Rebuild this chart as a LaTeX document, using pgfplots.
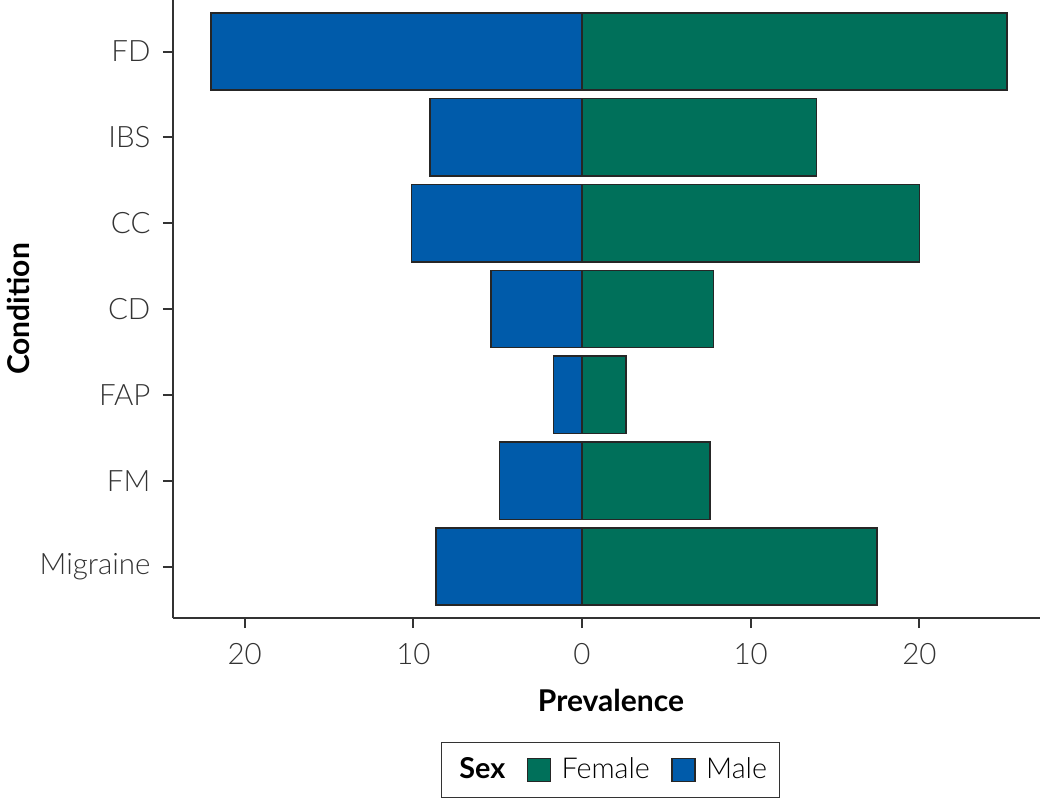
\documentclass[border=0pt]{standalone}
\usepackage{fontspec}
\setmainfont{Lato}[UprightFont=* Light, BoldFont=* Bold]
\usepackage{pgfplots}
\pgfplotsset{compat=1.18}
\usetikzlibrary{calc}
\definecolor{female}{RGB}{0,112,90}
\definecolor{male}{RGB}{0,91,170}
\definecolor{axgray}{RGB}{51,51,51}
\begin{document}
\begin{tikzpicture}
\begin{axis}[
  name=ax,
  scale only axis,
  width=346.8pt, height=247.2pt,
  xmin=-24.25, xmax=27.15,
  ymin=0.4, ymax=7.6,
  axis x line*=bottom, axis y line*=left,
  axis line style={axgray, line width=0.8pt},
  tick style={axgray, line width=0.8pt},
  tick align=outside,
  major tick length=4pt,
  xtick={-20,-10,0,10,20},
  xticklabels={20,10,0,10,20},
  ytick={1,2,3,4,5,6,7},
  yticklabels={Migraine,FM,FAP,CD,CC,IBS,FD},
  ticklabel style={font=\fontsize{11.8}{14}\selectfont, text=black!80},
  xticklabel style={yshift=-2.5pt},
  yticklabel style={xshift=-1.5pt},
  /pgf/number format/assume math mode=true,
  xbar, bar width=0.9, bar shift=0pt,
  legend style={at={(0.5046,-0.246)}, anchor=center, draw=axgray, line width=0.6pt,
    font=\fontsize{11.5}{14}\selectfont, inner xsep=3pt, inner ysep=4pt,
    /tikz/every odd column/.append style={column sep=2.2pt},
    /tikz/every even column/.append style={column sep=6.5pt}},
  legend columns=-1,
  legend cell align=left,
]
\addplot[fill=male, draw=black!85, line width=0.6pt, forget plot] coordinates {
  (-8.65,1) (-4.9,2) (-1.7,3) (-5.4,4) (-10.1,5) (-9.0,6) (-22.0,7)};
\addplot[fill=female, draw=black!85, line width=0.6pt, forget plot] coordinates {
  (17.5,1) (7.6,2) (2.6,3) (7.8,4) (20.0,5) (13.9,6) (25.2,7)};
\addlegendimage{empty legend}
\addlegendentry{\textbf{Sex}}
\addlegendimage{legend image code/.code={\draw[fill=female, draw=black!85, line width=0.6pt] (0pt,-4.6pt) rectangle (9.2pt,4.6pt);}}
\addlegendentry{Female}
\addlegendimage{legend image code/.code={\draw[fill=male, draw=black!85, line width=0.6pt] (0pt,-4.6pt) rectangle (9.2pt,4.6pt);}}
\addlegendentry{Male}
\end{axis}
\node[font=\bfseries\fontsize{12}{14}\selectfont, anchor=center] at ($(ax.south west)+(175.2pt,-32.8pt)$) {Prevalence};
\node[font=\bfseries\fontsize{12}{14}\selectfont, anchor=center, rotate=90] at ($(ax.south west)+(-62pt,123.6pt)$) {Condition};
\pgfresetboundingbox
\path ($(ax.south west)+(-69.2pt,-72.4pt)$) rectangle ($(ax.south west)+(350.8pt,247.2pt)$);
\end{tikzpicture}
\end{document}
